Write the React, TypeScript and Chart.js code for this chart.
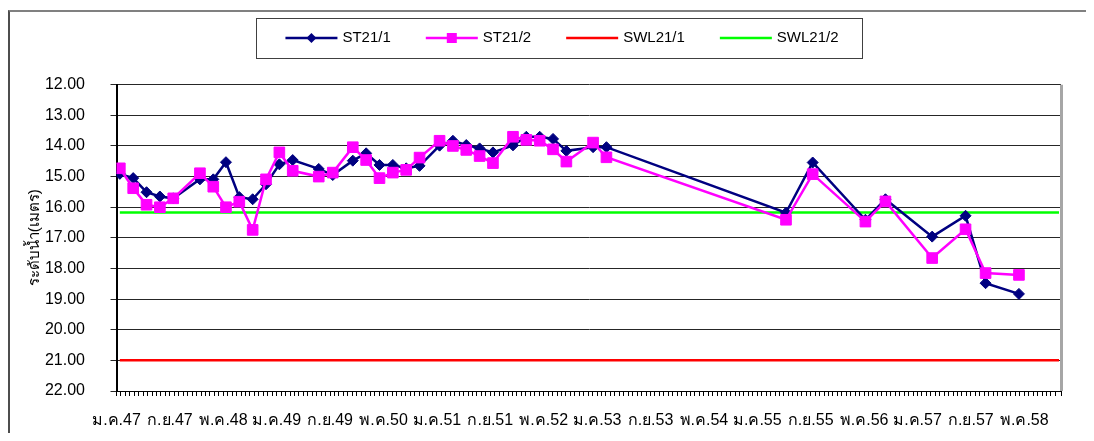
import React, { useEffect, useRef } from 'react';
import { Chart, registerables } from 'chart.js';

Chart.register(...registerables);

// ---- Data ----
const xLabels = [
  'ม.ค.47', 'ก.ย.47', 'พ.ค.48', 'ม.ค.49', 'ก.ย.49', 'พ.ค.50', 'ม.ค.51', 'ก.ย.51', 'พ.ค.52',
  'ม.ค.53', 'ก.ย.53', 'พ.ค.54', 'ม.ค.55', 'ก.ย.55', 'พ.ค.56', 'ม.ค.57', 'ก.ย.57', 'พ.ค.58',
];

// months counted from ม.ค.47
const sampleMonths = [
  0.5, 2.5, 4.5, 6.5, 8.5, 12.5, 14.5, 16.4, 18.4, 20.4, 22.4, 24.4, 26.4, 30.3, 32.4,
  35.4, 37.4, 39.4, 41.4, 43.4, 45.4, 48.4, 50.4, 52.4, 54.4, 56.4, 59.4, 61.4, 63.4,
  65.4, 67.4, 71.4, 73.4, 100.3, 104.3, 112.2, 115.2, 122.2, 127.2, 130.2, 135.2,
];

const st21_1 = [
  14.91, 15.05, 15.51, 15.65, 15.71, 15.09, 15.09, 14.53, 15.67, 15.74, 15.25, 14.6, 14.46, 14.75, 14.95,
  14.48, 14.24, 14.62, 14.62, 14.73, 14.65, 13.99, 13.83, 13.97, 14.08, 14.21, 13.98, 13.7, 13.7,
  13.77, 14.16, 14.04, 14.04, 16.18, 14.54, 16.41, 15.74, 16.96, 16.28, 18.48, 18.83,
];

const st21_2 = [
  14.73, 15.38, 15.92, 16.0, 15.71, 14.89, 15.33, 16.0, 15.82, 16.74, 15.09, 14.21, 14.81, 15.0, 14.87,
  14.04, 14.46, 15.05, 14.87, 14.78, 14.38, 13.83, 14.0, 14.13, 14.33, 14.56, 13.7, 13.8, 13.83,
  14.11, 14.51, 13.89, 14.37, 16.41, 14.92, 16.47, 15.81, 17.66, 16.72, 18.15, 18.21,
];

const swlMonths = [0.5, 141.2];
const swl21_1 = [21.0, 21.0];
const swl21_2 = [16.17, 16.17];

const yMin = 12;
const yMax = 22;
const yStep = 1;
const xMax = 141.5;
const xMinorStep = 2 / 3;
const labelEvery = 12;

const FONT = "'Liberation Sans', Arial, sans-serif";

const toPoints = (xs: number[], ys: number[]) => xs.map((x, i) => ({ x, y: ys[i] }));

const legendPlugin = {
  id: 'boxedLegend',
  afterDraw(chart: any) {
    const ctx = chart.ctx;
    const items = chart.data.datasets;
    ctx.save();
    ctx.font = `15px ${FONT}`;
    const lineLen = 52;
    const gapText = 5;
    const itemGap = 35;
    const widths = items.map((d: any) => ctx.measureText(d.label).width);
    const total =
      widths.reduce((a: number, w: number) => a + lineLen + gapText + w, 0) + itemGap * (items.length - 1);
    const cx = chart.width / 2 + 14;
    let x = cx - total / 2;
    const cy = 26;
    ctx.strokeStyle = '#404040';
    ctx.lineWidth = 1;
    ctx.strokeRect(Math.round(x - 29) + 0.5, 6.5, Math.round(total + 53), 40);
    items.forEach((d: any, i: number) => {
      ctx.strokeStyle = d.borderColor;
      ctx.lineWidth = d.borderWidth;
      ctx.beginPath();
      ctx.moveTo(x, cy);
      ctx.lineTo(x + lineLen, cy);
      ctx.stroke();
      const mx = x + lineLen / 2;
      ctx.fillStyle = d.pointBackgroundColor || d.borderColor;
      if (d.pointRadius > 0 && d.pointStyle === 'rectRot') {
        const r = 5;
        ctx.beginPath();
        ctx.moveTo(mx, cy - r);
        ctx.lineTo(mx + r, cy);
        ctx.lineTo(mx, cy + r);
        ctx.lineTo(mx - r, cy);
        ctx.closePath();
        ctx.fill();
      } else if (d.pointRadius > 0 && d.pointStyle === 'rect') {
        const s = 5;
        ctx.fillRect(mx - s, cy - s, 2 * s, 2 * s);
      }
      ctx.fillStyle = '#000';
      ctx.textBaseline = 'middle';
      ctx.textAlign = 'left';
      ctx.fillText(d.label, x + lineLen + gapText, cy);
      x += lineLen + gapText + widths[i] + itemGap;
    });
    ctx.restore();
  },
};

const plotBorderPlugin = {
  id: 'plotBorder',
  beforeDatasetsDraw(chart: any) {
    const { ctx, chartArea: a } = chart;
    ctx.save();
    ctx.strokeStyle = '#a6a6a6';
    ctx.lineWidth = 3;
    ctx.beginPath();
    ctx.moveTo(a.right + 0.5, a.top);
    ctx.lineTo(a.right + 0.5, a.bottom);
    ctx.stroke();
    ctx.restore();
  },
};

export default function App() {
  const canvasRef = useRef<HTMLCanvasElement | null>(null);

  useEffect(() => {
    if (!canvasRef.current) return;
    Chart.defaults.font.family = FONT;
    const chart = new Chart(canvasRef.current, {
      type: 'line',
      data: {
        datasets: [
          {
            label: 'ST21/1',
            data: toPoints(sampleMonths, st21_1),
            borderColor: '#000080',
            backgroundColor: '#000080',
            pointBackgroundColor: '#000080',
            pointBorderColor: '#000080',
            borderWidth: 2.5,
            pointStyle: 'rectRot',
            pointRadius: 5.5,
            pointBorderWidth: 1,
            tension: 0,
            order: 1,
          },
          {
            label: 'ST21/2',
            data: toPoints(sampleMonths, st21_2),
            borderColor: '#FF00FF',
            backgroundColor: '#FF00FF',
            pointBackgroundColor: '#FF00FF',
            pointBorderColor: '#FF00FF',
            borderWidth: 2.5,
            pointStyle: 'rect',
            pointRadius: 7.5,
            pointBorderWidth: 1,
            tension: 0,
            order: 0,
          },
          {
            label: 'SWL21/1',
            data: toPoints(swlMonths, swl21_1),
            borderColor: '#FF0000',
            backgroundColor: '#FF0000',
            borderWidth: 2.5,
            pointRadius: 0,
            order: 2,
          },
          {
            label: 'SWL21/2',
            data: toPoints(swlMonths, swl21_2),
            borderColor: '#00FF00',
            backgroundColor: '#00FF00',
            borderWidth: 2.5,
            pointRadius: 0,
            order: 3,
          },
        ],
      },
      options: {
        animation: false,
        responsive: true,
        maintainAspectRatio: false,
        events: [],
        layout: { padding: { top: 72.7, right: 25, bottom: 0, left: 0 } },
        plugins: {
          legend: { display: false },
          tooltip: { enabled: false },
        },
        scales: {
          x: {
            type: 'linear',
            min: 0,
            max: xMax,
            afterFit: (scale: any) => {
              scale.height = 42;
            },
            grid: {
              display: true,
              drawOnChartArea: false,
              drawTicks: true,
              tickLength: 5,
              color: '#000',
              lineWidth: 1,
            },
            border: { display: true, color: '#000', width: 1 },
            ticks: {
              stepSize: xMinorStep,
              autoSkip: false,
              maxRotation: 0,
              minRotation: 0,
              padding: 15,
              color: '#000',
              font: { size: 16, family: FONT },
              callback: (_v: any, index: number) =>
                index % labelEvery === 0 && index / labelEvery < xLabels.length
                  ? xLabels[index / labelEvery]
                  : '',
            },
          },
          y: {
            type: 'linear',
            reverse: true,
            min: yMin,
            max: yMax,
            afterFit: (scale: any) => {
              scale.width = 106.5;
            },
            grid: { color: '#262626', lineWidth: 1, tickLength: 6, drawTicks: true },
            border: { display: true, color: '#000', width: 2 },
            ticks: {
              stepSize: yStep,
              padding: 25.5,
              color: '#000',
              font: { size: 16, family: FONT },
              callback: (v: any) => Number(v).toFixed(2),
            },
            title: {
              display: true,
              text: 'ระดับน้ำ(เมตร)',
              color: '#000',
              font: { size: 15, family: FONT },
              padding: { top: 16, bottom: 1 },
            },
          },
        },
      },
      plugins: [plotBorderPlugin, legendPlugin],
    });
    return () => chart.destroy();
  }, []);

  return (
    <div style={{ paddingTop: 2 }}>
      <div
        style={{
          position: 'relative',
          width: 1078,
          height: 423,
          boxSizing: 'border-box',
          borderTop: '2px solid #808080',
          borderLeft: '2px solid #4d4d4d',
          background: '#fff',
        }}
      >
        <canvas ref={canvasRef} />
      </div>
    </div>
  );
}
